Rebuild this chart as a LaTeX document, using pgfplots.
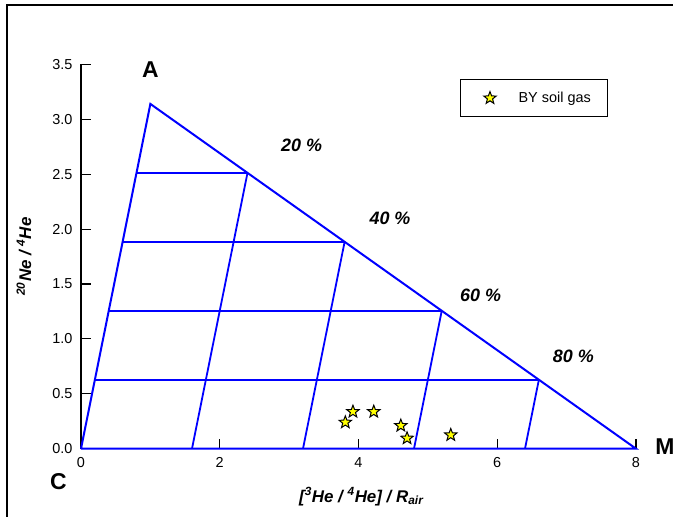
\documentclass[border=0pt]{standalone}
\usepackage{fontspec}
\setmainfont{Liberation Sans}
\usepackage{pgfplots}
\pgfplotsset{compat=1.18}
\definecolor{triblue}{RGB}{0,0,255}
\definecolor{staryellow}{RGB}{255,255,0}
\pgfdeclareplotmark{fstar}{%
  \pgfpathmoveto{\pgfpointpolar{90}{\pgfplotmarksize}}%
  \pgfpathlineto{\pgfpointpolar{126}{0.42\pgfplotmarksize}}%
  \pgfpathlineto{\pgfpointpolar{162}{\pgfplotmarksize}}%
  \pgfpathlineto{\pgfpointpolar{198}{0.42\pgfplotmarksize}}%
  \pgfpathlineto{\pgfpointpolar{234}{\pgfplotmarksize}}%
  \pgfpathlineto{\pgfpointpolar{270}{0.42\pgfplotmarksize}}%
  \pgfpathlineto{\pgfpointpolar{306}{\pgfplotmarksize}}%
  \pgfpathlineto{\pgfpointpolar{342}{0.42\pgfplotmarksize}}%
  \pgfpathlineto{\pgfpointpolar{18}{\pgfplotmarksize}}%
  \pgfpathlineto{\pgfpointpolar{54}{0.42\pgfplotmarksize}}%
  \pgfpathclose
  \pgfusepathqfillstroke}
\begin{document}
\begin{tikzpicture}
\useasboundingbox (-81bp,-68.3bp) rectangle (592bp,448.7bp);
\draw[line width=1.3bp] (-74bp,-75bp) -- (-74bp,443.7bp) -- (600bp,443.7bp);
\begin{axis}[
  at={(0,0)}, anchor=origin,
  scale only axis, width=555bp, height=384.3bp,
  xmin=0, xmax=8, ymin=0, ymax=3.5,
  axis lines=left,
  axis line style={-},
  x axis line style={draw=none},
  y axis line style={line width=1.4bp},
  tick align=inside,
  xtick={0,2,4,6,8},
  ytick={0,0.5,1,1.5,2,2.5,3,3.5},
  yticklabel style={/pgf/number format/.cd, fixed, fixed zerofill, precision=1, /tikz/.cd, xshift=-5bp},
  xticklabel style={yshift=-5bp},
  /pgf/number format/assume math mode=true,
  tick label style={font=\fontsize{14.5}{16}\selectfont},
  major tick length=10bp,
  every tick/.style={black, line width=1.1bp},
  xlabel={[\textsuperscript{3}He / \textsuperscript{4}He] / R\textsubscript{air}},
  ylabel={\textsuperscript{20}Ne / \textsuperscript{4}He},
  xlabel style={font=\fontsize{17}{19}\selectfont\bfseries\itshape, at={(axis description cs:0.505,-0.125)}, anchor=center},
  ylabel style={font=\fontsize{17}{19}\selectfont\bfseries\itshape, at={(axis description cs:-0.1027,0.5)}, anchor=center},
  clip=false,
  legend style={at={(axis cs:5.46,3.367)}, anchor=north west, draw=black, line width=1.2bp,
    inner sep=0pt, font=\fontsize{14.5}{16}\selectfont,
    nodes={inner sep=0pt, minimum height=37bp}},
  legend image code/.code={\path (0bp,0bp) (57bp,0bp); \draw plot coordinates {(29bp,0bp)};},
]
\addplot[triblue, line width=2bp, line join=miter, forget plot] coordinates {(0,0) (1,3.14) (8,0) (0,0)};
\addplot[triblue, line width=1.8bp, forget plot] coordinates {(0.2,0.628) (6.6,0.628)};
\addplot[triblue, line width=1.8bp, forget plot] coordinates {(0.4,1.256) (5.2,1.256)};
\addplot[triblue, line width=1.8bp, forget plot] coordinates {(0.6,1.884) (3.8,1.884)};
\addplot[triblue, line width=1.8bp, forget plot] coordinates {(0.8,2.512) (2.4,2.512)};
\addplot[triblue, line width=1.8bp, forget plot] coordinates {(1.6,0) (2.4,2.512)};
\addplot[triblue, line width=1.8bp, forget plot] coordinates {(3.2,0) (3.8,1.884)};
\addplot[triblue, line width=1.8bp, forget plot] coordinates {(4.8,0) (5.2,1.256)};
\addplot[triblue, line width=1.8bp, forget plot] coordinates {(6.4,0) (6.6,0.628)};
\addplot[only marks, mark=fstar, mark size=6.5bp, mark options={fill=staryellow, draw=black, line width=1bp}]
  coordinates {(3.81,0.24) (3.92,0.337) (4.22,0.337) (4.61,0.21) (4.70,0.095) (5.33,0.125)};
\addlegendentry{BY soil gas\hspace*{17bp}}
\node[font=\fontsize{23}{25}\selectfont\bfseries] at (axis cs:1.0,3.45) {A};
\node[font=\fontsize{23}{25}\selectfont\bfseries] at (axis cs:-0.327,-0.30) {C};
\node[font=\fontsize{23}{25}\selectfont\bfseries] at (axis cs:8.418,0.018) {M};
\node[font=\fontsize{18}{20}\selectfont\bfseries\itshape] at (axis cs:3.18,2.76) {20 \%};
\node[font=\fontsize{18}{20}\selectfont\bfseries\itshape] at (axis cs:4.454,2.098) {40 \%};
\node[font=\fontsize{18}{20}\selectfont\bfseries\itshape] at (axis cs:5.76,1.40) {60 \%};
\node[font=\fontsize{18}{20}\selectfont\bfseries\itshape] at (axis cs:7.096,0.838) {80 \%};
\end{axis}
\end{tikzpicture}
\end{document}
